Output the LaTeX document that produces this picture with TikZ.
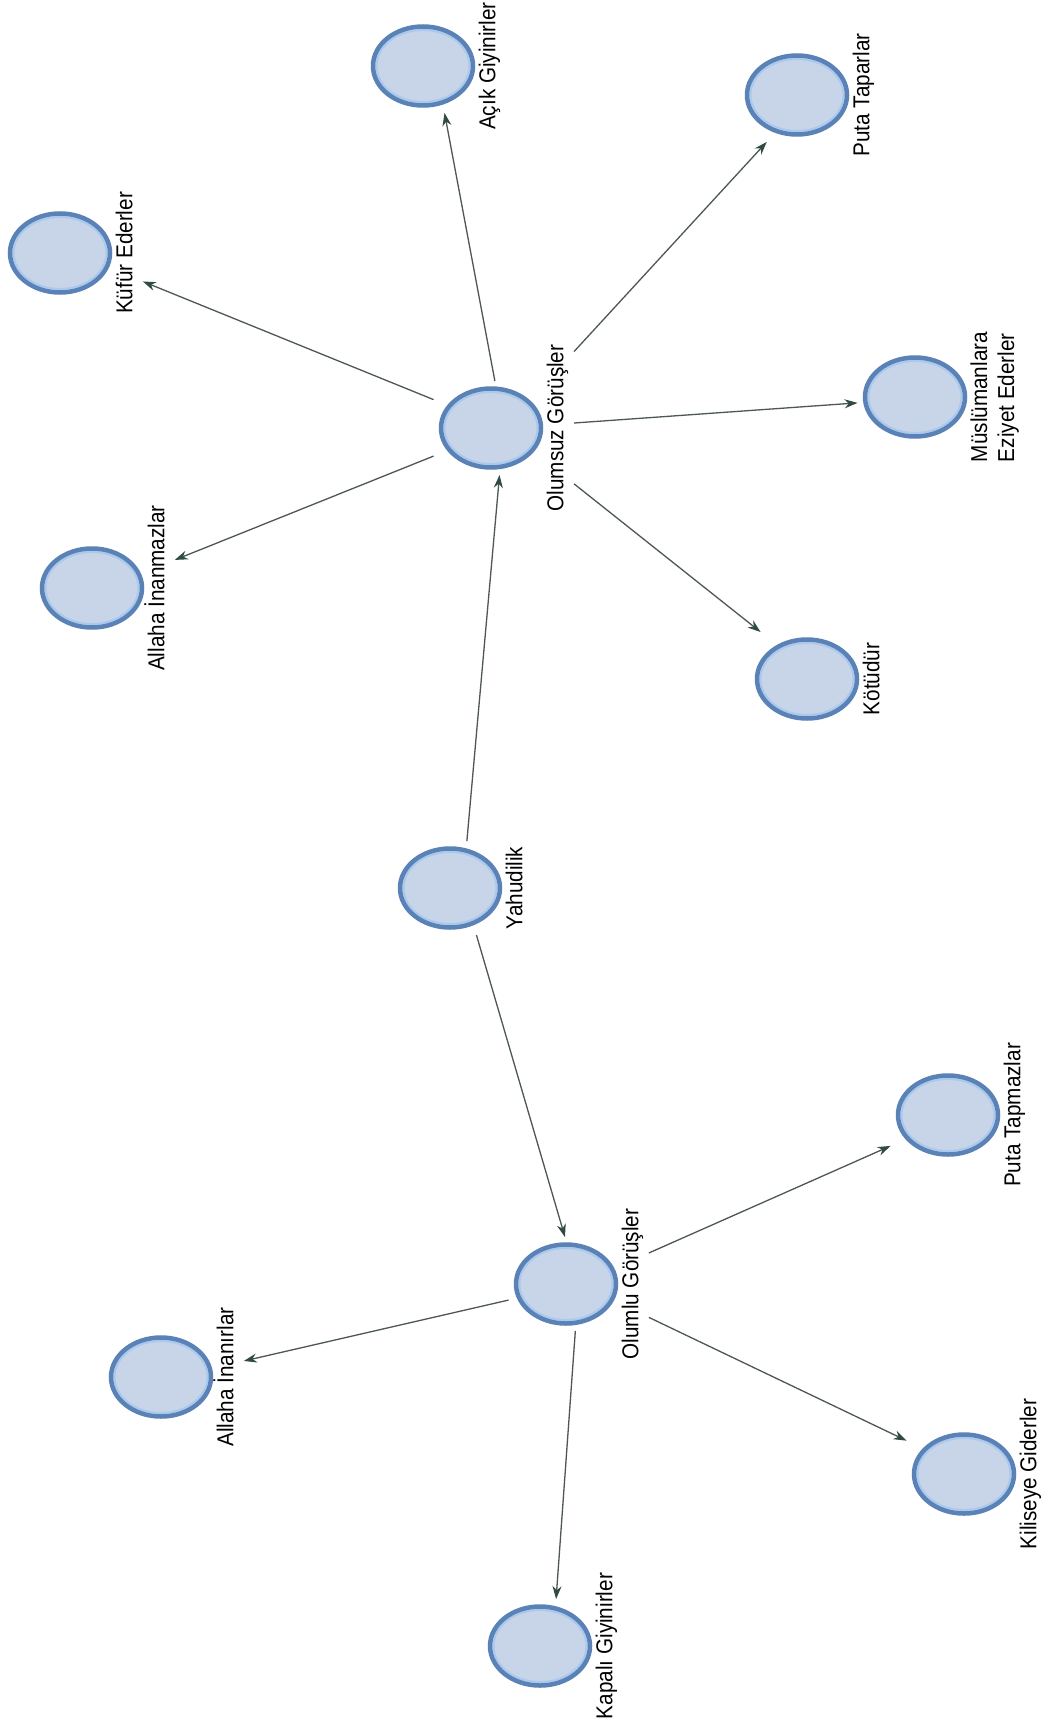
\documentclass[tikz,border=0pt]{standalone}
\usepackage{fontspec}
\setmainfont[FakeStretch=0.9]{Liberation Sans}
\usepackage{xcolor}
\usepackage{tikz}
\usetikzlibrary{arrows.meta,positioning,calc,shapes.geometric,fit}

\definecolor{bubbleline}{HTML}{5A82B6}
\definecolor{bubblefill}{HTML}{C8D5E8}
\definecolor{bubblering}{HTML}{A9C9EE}
\definecolor{edgeline}{HTML}{4D5753}
\definecolor{edgetip}{HTML}{2F4B43}

\begin{document}
\begin{tikzpicture}[x=1pt,y=-1pt,
	bubble/.style={ellipse,draw=bubbleline,line width=4.5pt,fill=bubblefill,
		minimum width=100pt,minimum height=79pt,inner sep=0pt,
		path picture={\draw[bubblering,line width=2pt] (path picture bounding box.center) ellipse [x radius=46.5pt,y radius=36pt];}},
	tag/.style={rotate=90,anchor=north,inner sep=0pt,text=black,font=\fontsize{23}{27}\selectfont},
	word/.style={tag,text height=17pt,text depth=5pt},
	hull/.style={inner sep=5pt},
	link/.style={draw=edgeline,line width=1.3pt,-{Stealth[length=13pt,width=9pt,color=edgetip]}}]
	\fill[white] (0,0) rectangle (1050,1720);
	\useasboundingbox (0,0) rectangle (1050,1720);
	
	\node[bubble] (Yahudi) at (450,888) {};
	\node[bubble] (Olumsuz) at (491,428) {};
	\node[bubble] (Olumlu) at (566,1284) {};
	\node[bubble] (Acik) at (423,66) {};
	\node[bubble] (Taparlar) at (797,95) {};
	\node[bubble] (Kufur) at (60,253) {};
	\node[bubble] (Eziyet) at (915,397) {};
	\node[bubble] (Inanmaz) at (92,588) {};
	\node[bubble] (Kotu) at (807,679) {};
	\node[bubble] (Tapmaz) at (948,1115) {};
	\node[bubble] (Inanir) at (161,1377) {};
	\node[bubble] (Kilise) at (964,1474) {};
	\node[bubble] (Kapali) at (540,1646) {};
	
	\node[word] (Yahudi-t) at ([xshift=3pt]Yahudi.east) {Yahudilik};
	\node[word] (Olumsuz-t) at ([xshift=3pt]Olumsuz.east) {Olumsuz Görüşler};
	\node[word] (Olumlu-t) at ([xshift=3pt]Olumlu.east) {Olumlu Görüşler};
	\node[word] (Acik-t) at ([xshift=3pt]Acik.east) {Açık Giyinirler};
	\node[word] (Taparlar-t) at ([xshift=3pt]Taparlar.east) {Puta Taparlar};
	\node[word] (Kufur-t) at ([xshift=3pt]Kufur.east) {Küfür Ederler};
	\node[tag,align=left] (Eziyet-t) at ([xshift=3pt]Eziyet.east) {Müslümanlara\\Eziyet Ederler};
	\node[word] (Inanmaz-t) at ([xshift=3pt]Inanmaz.east) {Allaha İnanmazlar};
	\node[word] (Kotu-t) at ([xshift=3pt]Kotu.east) {Kötüdür};
	\node[word] (Tapmaz-t) at ([xshift=3pt]Tapmaz.east) {Puta Tapmazlar};
	\node[word] (Inanir-t) at ([xshift=3pt]Inanir.east) {Allaha İnanırlar};
	\node[word] (Kilise-t) at ([xshift=3pt]Kilise.east) {Kiliseye Giderler};
	\node[word] (Kapali-t) at ([xshift=3pt]Kapali.east) {Kapalı Giyinirler};
	
	\node[hull,fit=(Yahudi.north)(Yahudi.south)(Yahudi.west)(Yahudi-t.south)] (Yahudi-h) {};
	\node[hull,fit=(Olumsuz.north)(Olumsuz.south)(Olumsuz.west)(Olumsuz-t.south)] (Olumsuz-h) {};
	\node[hull,fit=(Olumlu.north)(Olumlu.south)(Olumlu.west)(Olumlu-t.south)] (Olumlu-h) {};
	\node[hull,fit=(Acik.north)(Acik.south)(Acik.west)(Acik-t.south)] (Acik-h) {};
	\node[hull,fit=(Taparlar.north)(Taparlar.south)(Taparlar.west)(Taparlar-t.south)] (Taparlar-h) {};
	\node[hull,fit=(Kufur.north)(Kufur.south)(Kufur.west)(Kufur-t.south)] (Kufur-h) {};
	\node[hull,fit=(Eziyet.north)(Eziyet.south)(Eziyet.west)(Eziyet-t.south)] (Eziyet-h) {};
	\node[hull,fit=(Inanmaz.north)(Inanmaz.south)(Inanmaz.west)(Inanmaz-t.south)] (Inanmaz-h) {};
	\node[hull,fit=(Kotu.north)(Kotu.south)(Kotu.west)(Kotu-t.south)] (Kotu-h) {};
	\node[hull,fit=(Tapmaz.north)(Tapmaz.south)(Tapmaz.west)(Tapmaz-t.south)] (Tapmaz-h) {};
	\node[hull,fit=(Inanir.north)(Inanir.south)(Inanir.west)(Inanir-t.south)] (Inanir-h) {};
	\node[hull,fit=(Kilise.north)(Kilise.south)(Kilise.west)(Kilise-t.south)] (Kilise-h) {};
	\node[hull,fit=(Kapali.north)(Kapali.south)(Kapali.west)(Kapali-t.south)] (Kapali-h) {};
	\node[fit=(Olumsuz-h)(Olumsuz-t),inner sep=0pt] (Olumsuz-w) {};
	
	\draw[link] (Yahudi-h) -- (Olumsuz-h);
	\draw[link] (Yahudi-h) -- (Olumlu-h);
	
	\draw[link] (Olumsuz-h) -- (Acik-h);
	\draw[link] (Olumsuz-w) -- (Taparlar-h);
	\draw[link] (Olumsuz-h) -- (Kufur-h);
	\draw[link] (Olumsuz-w) -- (Eziyet-h);
	\draw[link] (Olumsuz-h) -- (Inanmaz-h);
	\draw[link] (Olumsuz-w) -- (Kotu-h);
	
	\draw[link] (Olumlu-h) -- (Tapmaz-h);
	\draw[link] (Olumlu-h) -- (Inanir-h);
	\draw[link] (Olumlu-h) -- (Kilise-h);
	\draw[link] (Olumlu-h) -- (Kapali-h);
\end{tikzpicture}
\end{document}
